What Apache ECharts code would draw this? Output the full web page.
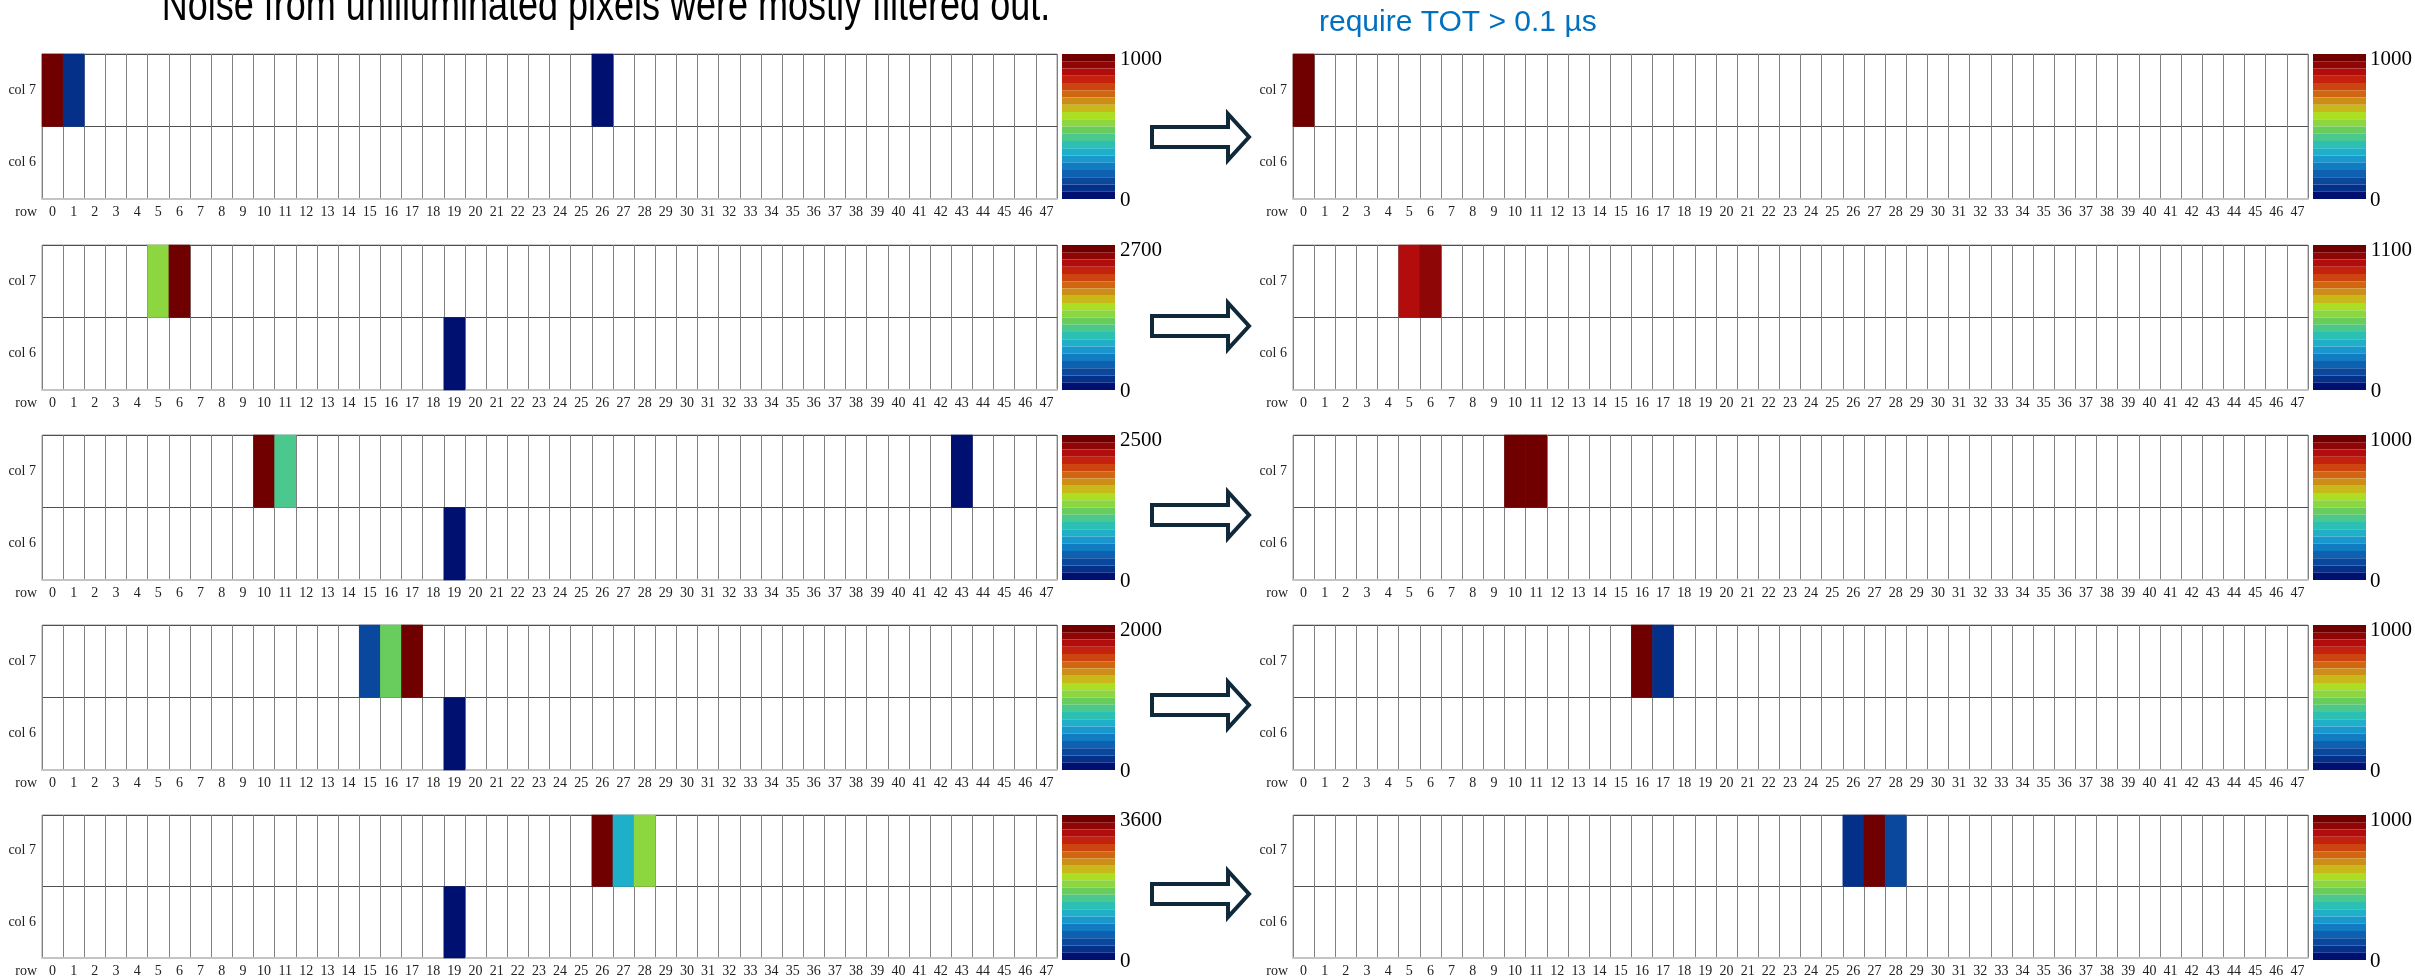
<!DOCTYPE html>
<html><head><meta charset="utf-8">
<script src="https://cdn.jsdelivr.net/npm/echarts@6/dist/echarts.min.js"></script>
<style>html,body{margin:0;padding:0;background:#fff}#c{width:2415px;height:978px}</style>
</head><body><div id="c"></div><script>
// ---- data ----
const rowLabels = ['0','1','2','3','4','5','6','7','8','9','10','11','12','13','14','15','16','17','18','19','20','21','22','23','24','25','26','27','28','29','30','31','32','33','34','35','36','37','38','39','40','41','42','43','44','45','46','47'];
const colLabels = ['col 6', 'col 7'];
// colour-scale maxima (colour bar top labels)
const scaleMaxBefore = [1000, 2700, 2500, 2000, 3600];
const scaleMaxAfter  = [1000, 1100, 1000, 1000, 1000];
// hits: [row, col (0 = col 6, 1 = col 7), TOT value]
const hitsBefore1 = [[0,1,1000],[1,1,80],[26,1,30]];
const hitsBefore2 = [[5,1,1420],[6,1,2700],[19,0,40]];
const hitsBefore3 = [[10,1,2500],[11,1,1060],[43,1,50],[19,0,50]];
const hitsBefore4 = [[15,1,250],[16,1,950],[17,1,2000],[19,0,40]];
const hitsBefore5 = [[26,1,3600],[27,1,1170],[28,1,1890],[19,0,60]];
const hitsAfter1 = [[0,1,1000]];
const hitsAfter2 = [[5,1,960],[6,1,1020]];
const hitsAfter3 = [[10,1,1000],[11,1,980]];
const hitsAfter4 = [[16,1,1000],[17,1,75]];
const hitsAfter5 = [[26,1,75],[27,1,1000],[28,1,125]];
const titleText = 'Noise from unilluminated pixels were mostly filtered out.';
const cutText = 'require TOT > 0.1 µs';
const palette = ['#001070','#05308a','#0a489e','#0e60b0','#127cc2','#1898cc','#1eb0c8','#2cc0b4','#4ac88e','#68cd5c','#8cd640','#acde24','#c8b81a','#cc8e16','#d06612','#cc4410','#c4220e','#b20c0c','#8e0606','#700000'];

// ---- layout ----
const hitsBefore = [hitsBefore1, hitsBefore2, hitsBefore3, hitsBefore4, hitsBefore5];
const hitsAfter = [hitsAfter1, hitsAfter2, hitsAfter3, hitsAfter4, hitsAfter5];
const tops = [54, 245, 435, 625, 815];
const arrowY = [137, 326, 515, 705, 894];
const GW = 1015, GH = 145, BARW = 53;
const SERIF = '"Liberation Serif", "Times New Roman", serif';

const panels = [];
for (let i = 0; i < 5; i++) {
  panels.push({side: 0, row: i, max: scaleMaxBefore[i], data: hitsBefore[i]});
  panels.push({side: 1, row: i, max: scaleMaxAfter[i], data: hitsAfter[i]});
}
const grids = [], xAxes = [], yAxes = [], series = [], visualMaps = [], graphics = [];
panels.forEach((p, k) => {
  const left = p.side ? 1293 : 42;
  const top = tops[p.row];
  grids.push({left: left, top: top, width: GW, height: GH, show: true, borderColor: '#9c9c9c', borderWidth: 1, backgroundColor: '#fff'});
  xAxes.push({
    type: 'category', gridIndex: k, data: rowLabels,
    name: 'row', nameLocation: 'start', nameGap: 5,
    nameTextStyle: {fontFamily: SERIF, fontSize: 14, color: '#222', verticalAlign: 'top', padding: [6, 0, 0, 0]},
    axisLine: {show: true, lineStyle: {color: '#c4c4c4', width: 2}},
    axisTick: {show: false},
    axisLabel: {interval: 0, margin: 6, fontFamily: SERIF, fontSize: 14, color: '#222'},
    splitLine: {show: true, interval: 0, lineStyle: {color: '#808080', width: 1}}
  });
  yAxes.push({
    type: 'category', gridIndex: k, data: colLabels,
    axisLine: {show: false}, axisTick: {show: false},
    axisLabel: {margin: 6, fontFamily: SERIF, fontSize: 14, color: '#222'},
    splitLine: {show: true, interval: 0, lineStyle: {color: '#505050', width: 1}}
  });
  series.push({type: 'heatmap', xAxisIndex: k, yAxisIndex: k, data: p.data, silent: true, emphasis: {disabled: true}, itemStyle: {borderWidth: 0}});
  visualMaps.push({
    type: 'piecewise', seriesIndex: k, min: 0, max: p.max, splitNumber: 20,
    inRange: {color: palette}, orient: 'vertical',
    left: left + GW + 5, top: top, padding: 0,
    itemWidth: BARW, itemHeight: GH / 20, itemGap: 0, itemSymbol: 'rect',
    showLabel: false, selectedMode: false, hoverLink: false
  });
});
// colour-bar scale axes (labels 0 and max)
panels.forEach((p, k) => {
  const left = p.side ? 1293 : 42;
  const top = tops[p.row];
  const gi = panels.length + k;
  const M = p.max;
  grids.push({left: left + GW + 5, top: top, width: BARW, height: GH, show: false});
  xAxes.push({type: 'value', gridIndex: gi, show: false, min: 0, max: 1});
  yAxes.push({
    type: 'value', gridIndex: gi, position: 'right', min: 0, max: M, interval: M,
    axisLine: {show: false}, axisTick: {show: false}, splitLine: {show: false},
    axisLabel: {
      margin: 5, fontFamily: SERIF, fontSize: 21, color: '#000', verticalAlign: 'middle',
      formatter: v => (v === M ? '{t|' + v + '}' : '{b|' + v + '}'),
      rich: {
        t: {fontFamily: SERIF, fontSize: 21, color: '#000', padding: [10, 0, 0, 0]},
        b: {fontFamily: SERIF, fontSize: 21, color: '#000', padding: [2, 0, 0, 0]}
      }
    }
  });
});
arrowY.forEach(cy => {
  graphics.push({
    type: 'polygon', silent: true,
    shape: {points: [[1152, cy - 10], [1228, cy - 10], [1228, cy - 23], [1249, cy], [1228, cy + 23], [1228, cy + 10], [1152, cy + 10]]},
    style: {fill: '#fff', stroke: '#10293a', lineWidth: 4, lineJoin: 'miter'}
  });
});
graphics.push({type: 'text', x: 606, y: 7, scaleY: 1.3, silent: true,
  style: {text: titleText, font: '36px "Liberation Sans", Arial, sans-serif', fill: '#000', align: 'center', textAlign: 'center', verticalAlign: 'middle', textVerticalAlign: 'middle'}});
graphics.push({type: 'text', x: 1319, y: 23, silent: true,
  style: {text: cutText, font: '30px "Liberation Sans", Arial, sans-serif', fill: '#0070c0', align: 'left', textAlign: 'left', verticalAlign: 'middle', textVerticalAlign: 'middle'}});

const chart = echarts.init(document.getElementById('c'));
chart.setOption({
  animation: false,
  backgroundColor: '#fff',
  grid: grids, xAxis: xAxes, yAxis: yAxes, series: series,
  visualMap: visualMaps, graphic: graphics
});
</script></body></html>
